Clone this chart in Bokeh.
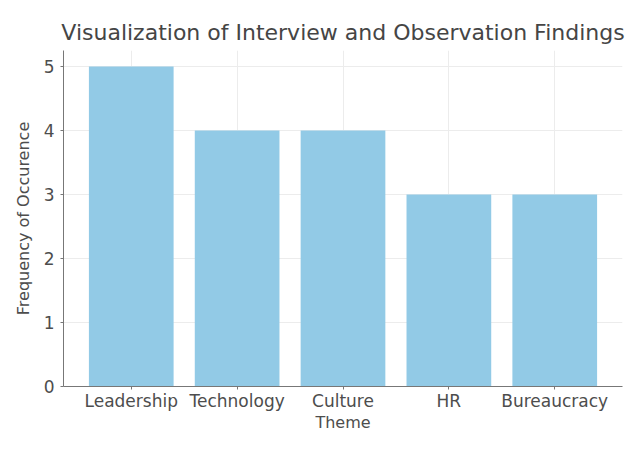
from bokeh.plotting import figure
from bokeh.models import Range1d, FixedTicker, ColumnDataSource
from bokeh.embed import file_html
from bokeh.resources import INLINE

themes = ["Leadership", "Technology", "Culture", "HR", "Bureaucracy"]
frequency = [5, 4, 4, 3, 3]
positions = list(range(len(themes)))
y_ticks = [0, 1, 2, 3, 4, 5]

src = ColumnDataSource(dict(x=positions, top=frequency, theme=themes))

p = figure(width=626, height=434, output_backend="svg", toolbar_location=None,
           x_range=Range1d(-0.64, 4.64), y_range=Range1d(0, 5.25),
           title="Visualization of Interview and Observation Findings",
           min_border_left=63, min_border_right=4, min_border_top=50, min_border_bottom=40)

p.vbar(x="x", top="top", width=0.8, bottom=0, source=src,
       fill_color="#92cae6", line_color=None)

p.title.text_font = "DejaVu Sans"
p.title.text_font_size = "22px"
p.title.text_font_style = "normal"
p.title.text_color = "#454545"
p.title.align = "center"
p.title.offset = 0
p.title.standoff = 12

p.outline_line_color = None
p.background_fill_color = "white"
p.border_fill_color = "white"

p.xaxis.ticker = FixedTicker(ticks=positions)
p.xaxis.major_label_overrides = {i: t for i, t in enumerate(themes)}
p.yaxis.ticker = FixedTicker(ticks=y_ticks)

for ax in (p.xaxis, p.yaxis):
    ax.axis_line_color = "#777777"
    ax.major_tick_line_color = "#777777"
    ax.major_tick_out = 3
    ax.major_tick_in = 0
    ax.minor_tick_line_color = None
    ax.major_label_text_font = "DejaVu Sans"
    ax.major_label_text_font_size = "17px"
    ax.major_label_text_color = "#4d4d4d"
    ax.axis_label_text_font = "DejaVu Sans"
    ax.axis_label_text_font_size = "16px"
    ax.axis_label_text_font_style = "normal"
    ax.axis_label_text_color = "#4d4d4d"

p.xaxis.axis_label = "Theme"
p.yaxis.axis_label = "Frequency of Occurence"
p.xaxis.axis_label_standoff = -1
p.yaxis.axis_label_standoff = 8
p.xaxis.major_label_standoff = 1
p.yaxis.major_label_standoff = 6

p.xgrid.grid_line_color = "#ececec"
p.ygrid.grid_line_color = "#ececec"

open("out.html", "w").write(file_html(p, INLINE))
